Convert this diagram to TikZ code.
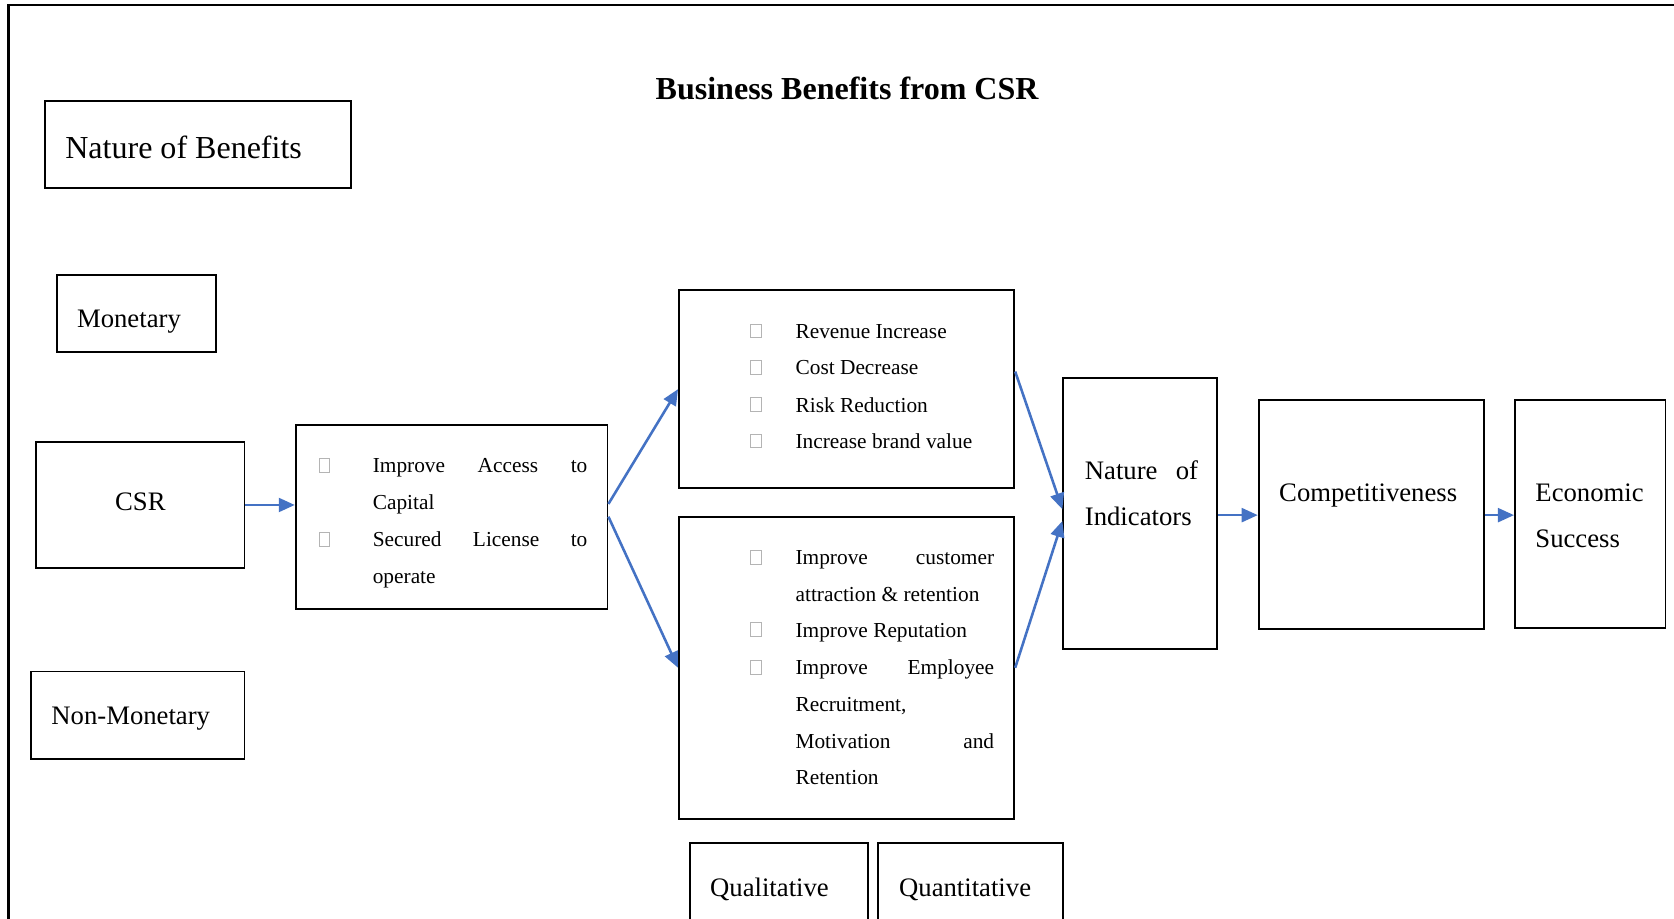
\documentclass[tikz,border=0pt]{standalone}
\usepackage{fontspec}
\setmainfont{Liberation Serif}
\usetikzlibrary{arrows.meta}
\definecolor{arrowblue}{HTML}{4472C4}
\definecolor{bulletgray}{HTML}{B4B4B4}
\begin{document}
\begin{tikzpicture}[x=1pt,y=-1pt,
  box/.style={draw=black, line width=1.8pt, rectangle, inner sep=0pt},
  big/.style={font=\fontsize{25}{30}\selectfont, inner sep=0pt, anchor=base west, yshift=-1pt},
  small/.style={font=\fontsize{20}{24}\selectfont, inner sep=0pt, anchor=base west, yshift=-1pt},
  flow/.style={draw=arrowblue, line width=2.4pt, -{Triangle[length=15pt,width=13pt]}},
  tickbox/.style={draw=bulletgray, line width=0.9pt}]

\useasboundingbox (0,0) rectangle (1568,860);
\fill[white] (0,0) rectangle (1568,860);
\clip (0,0) rectangle (1568,860);

% page frame
\draw[line width=2pt] (8,880) -- (8,5) -- (1590,5);

% title
\node[font=\fontsize{30}{36}\selectfont\bfseries, inner sep=0pt, anchor=base] (title) at (793.5,93) {Business Benefits from CSR};

% boxes
\node[box, minimum width=287pt, minimum height=81pt]  (nob)   at (185.5,135.5) {};
\node[box, minimum width=149pt, minimum height=72pt]  (mon)   at (127.5,294) {};
\node[box, minimum width=195pt, minimum height=118pt] (csr)   at (131.5,473) {};
\node[box, minimum width=200pt, minimum height=82pt]  (nonm)  at (129,670) {};
\node[box, minimum width=292pt, minimum height=172pt] (boxA)  at (423,484) {};
\node[box, minimum width=314pt, minimum height=185pt] (boxB)  at (793,364.5) {};
\node[box, minimum width=314pt, minimum height=283pt] (boxC)  at (793,625.5) {};
\node[box, minimum width=144pt, minimum height=254pt] (noi)   at (1068,481) {};
\node[box, minimum width=211pt, minimum height=214pt] (comp)  at (1284.5,482) {};
\node[box, minimum width=141pt, minimum height=213pt] (econ)  at (1489.5,481.5) {};
\node[box, minimum width=167pt, minimum height=90pt]  (qual)  at (729.5,835) {};
\node[box, minimum width=174pt, minimum height=90pt]  (quant) at (909,835) {};

% box labels
\node[font=\fontsize{30}{36}\selectfont, inner sep=0pt, anchor=base west, yshift=-1pt] (nobt) at (61,147) {Nature of Benefits};
\node[big] (mont) at (72,306) {Monetary};
\node[big, anchor=base] (csrt) at (131.5,477) {CSR};
\node[big] (nonmt) at (48,678) {Non-Monetary};
\node[big] (noit1) at (1016,448) {\makebox[106pt][s]{Nature\hfill of}};
\node[big] (noit2) at (1016,491) {Indicators};
\node[big] (compt) at (1198,469) {Competitiveness};
\node[big] (econt1) at (1438,469) {Economic};
\node[big] (econt2) at (1438,512) {Success};
\node[big] (qualt) at (665,839) {Qualitative};
\node[big] (quantt) at (842,839) {Quantitative};

% list texts
\foreach \y/\t [count=\i] in {442/{\makebox[201pt][s]{Improve\hfill Access\hfill to}},
    476/{Capital},
    511/{\makebox[201pt][s]{Secured\hfill License\hfill to}},
    546/{operate}}
  \node[small] (la\i) at (349,\y) {\t};

\foreach \y/\t [count=\i] in {316/{Revenue Increase}, 350/{Cost Decrease},
    385/{Risk Reduction}, 419/{Increase brand value}}
  \node[small] (lb\i) at (745,\y) {\t};

\foreach \y/\t [count=\i] in {528/{\makebox[186pt][s]{Improve\hfill customer}},
    562/{attraction \& retention},
    596/{Improve Reputation},
    631/{\makebox[186pt][s]{Improve\hfill Employee}},
    665/{Recruitment,},
    700/{\makebox[186pt][s]{Motivation\hfill and}},
    734/{Retention}}
  \node[small] (lc\i) at (745,\y) {\t};

% bullet markers
\foreach \bx/\by in {304/436, 304/505, 708/310, 708/344, 708/379, 708/413,
    708/522, 708/590, 708/625}
  \draw[tickbox] (\bx-5,\by-6.5) rectangle (\bx+5,\by+6.5);

% connectors
\draw[flow] (csr.east) -- (csr.east -| boxA.west);
\draw[flow] ([yshift=12pt]boxA.east) -- (boxB.west);
\draw[flow] (boxA.east) -- (boxC.west);
\draw[flow] ([yshift=16.5pt]boxB.east) -- ([yshift=4pt]noi.west);
\draw[flow] (boxC.east) -- ([yshift=-7pt]noi.west);
\draw[flow] ([yshift=-1.5pt]noi.east) -- ([yshift=-1.5pt]noi.east -| comp.west);
\draw[flow] ([yshift=-0.5pt]comp.east) -- ([yshift=-0.5pt]comp.east -| econ.west);
\end{tikzpicture}
\end{document}
